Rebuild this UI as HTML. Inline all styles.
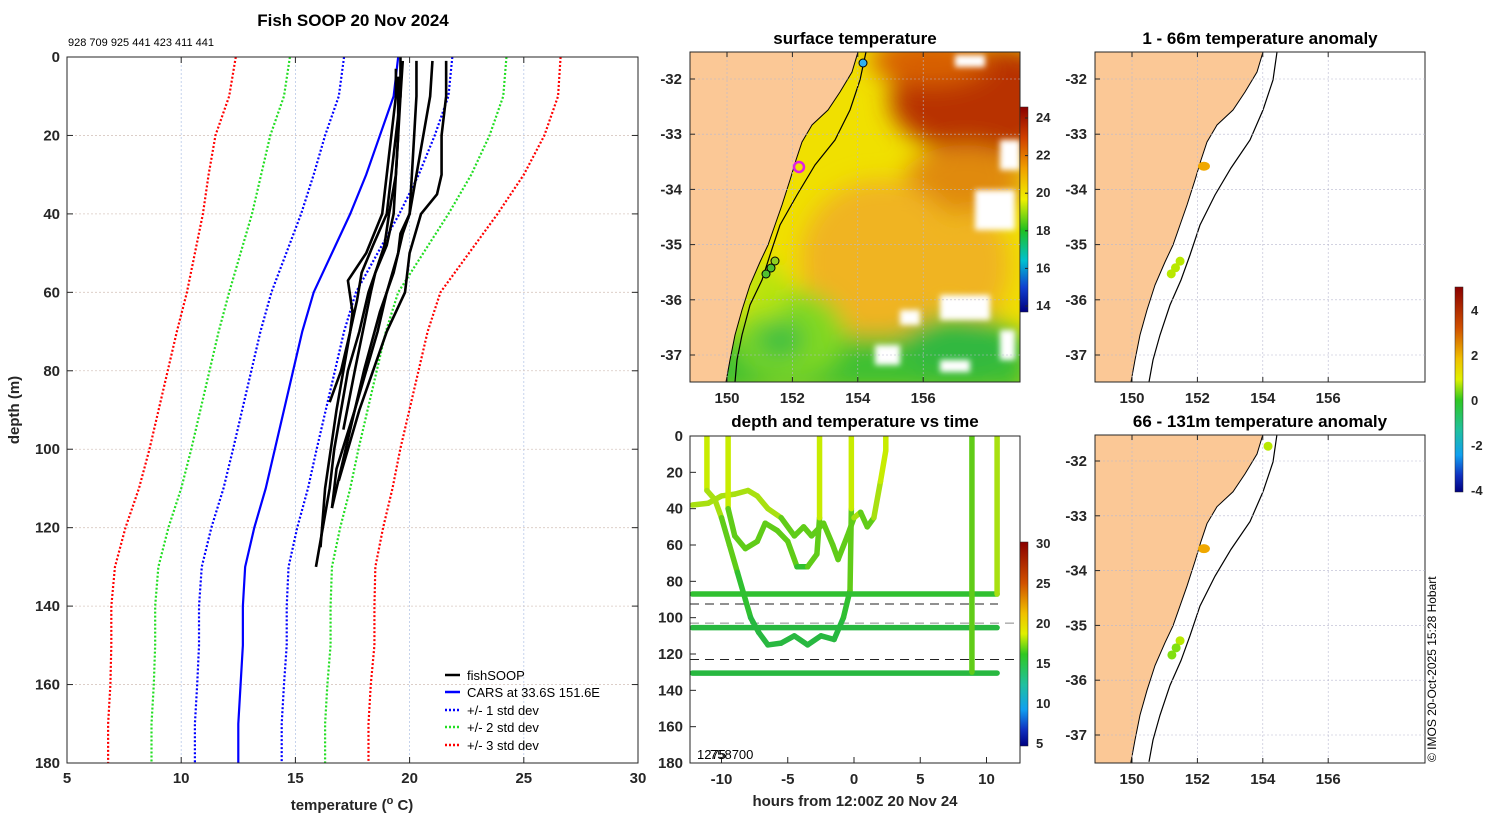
<!DOCTYPE html>
<html><head><meta charset="utf-8"><style>
html,body{margin:0;padding:0;background:#fff;}
svg{display:block;font-family:"Liberation Sans","DejaVu Sans",sans-serif;}
.tk{font-size:15px;font-weight:bold;fill:#262626;}
.ttl{font-size:17px;font-weight:bold;fill:#000;}
.lg{font-size:13px;fill:#000;}
</style></head><body>
<svg id="fig" width="1500" height="820" viewBox="0 0 1500 820" xmlns="http://www.w3.org/2000/svg">
<defs>
<clipPath id="cL"><rect x="67" y="57" width="571" height="706"/></clipPath>
<clipPath id="cM"><rect x="690" y="52" width="330" height="330"/></clipPath>
<clipPath id="cT"><rect x="690" y="436" width="330" height="327"/></clipPath>
<clipPath id="cR1"><rect x="1095" y="52" width="330" height="330"/></clipPath>
<clipPath id="cR2"><rect x="1095" y="435" width="330" height="328"/></clipPath>
<filter id="bl" x="-50%" y="-50%" width="200%" height="200%"><feGaussianBlur stdDeviation="12"/></filter>
<filter id="bl2" x="-50%" y="-50%" width="200%" height="200%"><feGaussianBlur stdDeviation="3"/></filter>
<linearGradient id="jet" x1="0" y1="0" x2="0" y2="1">
<stop offset="0" stop-color="#8a0000"/><stop offset="0.15" stop-color="#d04000"/><stop offset="0.3" stop-color="#f0a000"/><stop offset="0.45" stop-color="#f0f000"/><stop offset="0.6" stop-color="#20c020"/><stop offset="0.75" stop-color="#00c0d0"/><stop offset="0.88" stop-color="#1040d0"/><stop offset="1" stop-color="#000080"/></linearGradient>
<linearGradient id="jet2" x1="0" y1="0" x2="0" y2="1">
<stop offset="0" stop-color="#8a0000"/><stop offset="0.2" stop-color="#d05000"/><stop offset="0.35" stop-color="#f0c000"/><stop offset="0.45" stop-color="#e0f000"/><stop offset="0.55" stop-color="#30c820"/><stop offset="0.7" stop-color="#20c0a0"/><stop offset="0.82" stop-color="#10a0f0"/><stop offset="0.92" stop-color="#1030c0"/><stop offset="1" stop-color="#000080"/></linearGradient>
</defs>

<text class="ttl" x="353" y="26" text-anchor="middle">Fish SOOP 20 Nov 2024</text>
<text x="68" y="46" font-size="11">928 709 925 441 423 411 441</text>
<g id="leftGrid"></g>
<g id="leftMarks" clip-path="url(#cL)"></g>
<rect x="67" y="57" width="571" height="706" fill="none" stroke="#262626" stroke-width="1"/>
<g id="leftAxes"></g>
<text class="tk" x="352" y="810" text-anchor="middle" font-size="16">temperature (<tspan dy="-6" font-size="11">o</tspan><tspan dy="6"> C)</tspan></text>
<text class="tk" font-size="16" transform="translate(19,410) rotate(-90)" text-anchor="middle">depth (m)</text>
<g>
<line x1="445" y1="675" x2="460" y2="675" stroke="#000" stroke-width="2.5"/><text class="lg" x="467" y="680">fishSOOP</text>
<line x1="445" y1="692" x2="460" y2="692" stroke="#0000ff" stroke-width="2.5"/><text class="lg" x="467" y="697">CARS at 33.6S 151.6E</text>
<line x1="445" y1="710" x2="460" y2="710" stroke="#0000ff" stroke-width="2.5" stroke-dasharray="2,2"/><text class="lg" x="467" y="715">+/- 1 std dev</text>
<line x1="445" y1="727" x2="460" y2="727" stroke="#22dd22" stroke-width="2.5" stroke-dasharray="2,2"/><text class="lg" x="467" y="732">+/- 2 std dev</text>
<line x1="445" y1="745" x2="460" y2="745" stroke="#ff0000" stroke-width="2.5" stroke-dasharray="2,2"/><text class="lg" x="467" y="750">+/- 3 std dev</text>
</g>

<text class="ttl" x="855" y="44" text-anchor="middle">surface temperature</text>
<g clip-path="url(#cM)">
<rect x="690" y="52" width="330" height="330" fill="#f0e000"/>
<g filter="url(#bl)">
<ellipse cx="985" cy="100" rx="95" ry="55" fill="#b83000"/>
<ellipse cx="930" cy="60" rx="60" ry="25" fill="#d86000"/>
<ellipse cx="965" cy="180" rx="60" ry="35" fill="#e08a10"/>
<ellipse cx="880" cy="260" rx="80" ry="80" fill="#f0b420"/>
<ellipse cx="975" cy="265" rx="35" ry="55" fill="#f0b420"/>
<rect x="690" y="335" width="340" height="60" fill="#40c030"/>
<ellipse cx="790" cy="335" rx="55" ry="45" fill="#80d820"/>
<ellipse cx="780" cy="340" rx="25" ry="20" fill="#40c040"/>
<ellipse cx="765" cy="290" rx="22" ry="28" fill="#b8e410"/>
<ellipse cx="960" cy="345" rx="60" ry="30" fill="#30b840"/>
</g>
<g fill="#fff" filter="url(#bl2)">
<rect x="975" y="190" width="40" height="40"/><rect x="940" y="295" width="50" height="25"/>
<rect x="875" y="345" width="25" height="20"/><rect x="1000" y="140" width="20" height="30"/>
<rect x="955" y="55" width="30" height="12"/><rect x="1000" y="330" width="15" height="30"/>
<rect x="900" y="310" width="20" height="15"/><rect x="940" y="360" width="30" height="12"/>
</g>
<polygon points="690,52 858,52 852,72 840,92 828,110 812,125 802,142 796,160 790,180 782,205 775,225 768,245 760,262 750,285 742,310 735,335 730,360 726,382 690,382" fill="#fbc896" stroke="#000" stroke-width="1"/>
<polyline points="866,52 860,80 850,110 835,140 815,165 797,195 780,225 770,255 762,280 750,305 742,335 737,360 735,382" fill="none" stroke="#000" stroke-width="1.2"/>
<circle cx="863" cy="63" r="4" fill="#30b0f0" stroke="#000"/>
<circle cx="799" cy="167" r="5" fill="none" stroke="#e020e0" stroke-width="2.5"/>
<circle cx="775" cy="261" r="4" fill="#90d020" stroke="#000"/><circle cx="771" cy="268" r="4" fill="#50c030" stroke="#000"/><circle cx="766" cy="274" r="4" fill="#50c030" stroke="#000"/>
</g>
<rect x="690" y="52" width="330" height="330" fill="none" stroke="#262626"/>
<rect x="1020" y="107" width="8" height="205" fill="url(#jet)" stroke="#262626" stroke-width="0.5"/>
<g id="midAxes"></g>

<text class="ttl" x="855" y="427" text-anchor="middle">depth and temperature vs time</text>
<g id="dtMarks" clip-path="url(#cT)"></g>
<rect x="690" y="436" width="330" height="327" fill="none" stroke="#262626"/>
<text x="697" y="759" font-size="13">1275</text>
<text x="710" y="759" font-size="13">758700</text>
<rect x="1020" y="542" width="8" height="204" fill="url(#jet2)" stroke="#262626" stroke-width="0.5"/>
<text class="tk" x="855" y="806" text-anchor="middle" font-size="16">hours from 12:00Z 20 Nov 24</text>

<text class="ttl" x="1260" y="44" text-anchor="middle">1 - 66m temperature anomaly</text>
<text class="ttl" x="1260" y="427" text-anchor="middle">66 - 131m temperature anomaly</text>
<g id="rightMaps"></g>
<rect x="1455" y="287" width="8" height="205" fill="url(#jet2)" stroke="#262626" stroke-width="0.5"/>
<text font-size="12" transform="translate(1436,762) rotate(-90)">© IMOS 20-Oct-2025 15:28 Hobart</text>
</svg>
<script>
const depths=[0,10,20,30,40,50,60,70,80,90,100,110,120,130,140,150,160,170,180];
const carsMean=[19.5,19.3,18.7,18.1,17.4,16.6,15.8,15.3,14.9,14.5,14.1,13.7,13.2,12.8,12.7,12.7,12.6,12.5,12.5];
const carsStd=[2.37,2.4,2.4,2.3,2.15,2.0,1.85,1.83,1.83,1.83,1.83,1.85,1.88,1.9,1.92,1.92,1.9,1.9,1.9];
const profDepths=[
 [0,10,20,30,40,48,55,60,70,80,90,100,110,120,130],
 [1,10,20,30,40,48,55,62,70,80,88],
 [1,10,30,40,45,50,55,65,80,100,115],
 [1,10,20,30,40,45,50,60,70,90,105,115],
 [1,10,20,30,35,40,50,60,70,90,108],
 [3,10,20,30,40,50,57,65,70,90,110,125],
 [5,20,30,40,48,55,60,80,95]];
const profTemps=[
 [19.6,19.6,19.5,19.4,19.3,19.0,18.5,18.2,17.8,17.3,17.0,16.7,16.5,16.2,15.9],
 [19.7,19.6,19.4,19.2,19.0,18.4,17.9,17.7,17.4,17.0,16.5],
 [20.3,20.3,20.1,20.0,19.7,19.5,19.3,18.7,18.0,17.2,16.6],
 [21.0,20.9,20.6,20.3,20.0,19.6,19.5,19.0,18.6,17.6,16.8,16.6],
 [21.6,21.6,21.4,21.4,21.2,20.5,20.0,19.8,19.0,17.8,16.9],
 [19.4,19.4,19.2,19.0,18.8,18.1,17.3,17.5,17.4,16.8,16.3,16.1],
 [19.5,19.5,19.4,19.1,18.9,18.5,18.3,17.6,17.1]];
const xTicks=[5,10,15,20,25,30];
const yTicks=[0,20,40,60,80,100,120,140,160,180];
const trackHours=[
 [-11.1,-11.1,-10.5,-10,-9.4,-8.8,-8.2,-7.8,-7.2,-6.5,-5.5,-4.5,-3.5,-2.5,-1.5,-0.8,-0.3,-0.2,-0.2],
 [-12.2,-11,-10,-9,-8,-7.3,-6.5,-5.5,-4.5,-3.8,-3.2,-2.3,-1.6,-1.2,-0.5,0,0.5,1,1.5,2,2.4,2.4],
 [-9.5,-9.5,-9,-8.2,-7.3,-6.7,-5.8,-5,-4.3,-3.5,-2.8,-2.6,-2.6],
 [-12.2,10.8,10.8],
 [-12.2,10.8],
 [-12.2,10.8],
 [8.9,8.9]];
const trackDepths=[
 [0,30,35,45,60,75,90,100,108,115,114,110,115,110,112,100,85,40,0],
 [38,37,33,32,30,33,40,45,55,50,55,48,60,68,55,45,42,50,45,25,8,0],
 [0,40,55,62,58,48,52,58,72,72,65,45,0],
 [87,87,0],
 [105.5,105.5],
 [130.5,130.5],
 [0,130]];
const dashDepths=[92.5,103,123];
const hourTicks=[-10,-5,0,5,10];
const dtDepthTicks=[0,20,40,60,80,100,120,140,160,180];
const sstTicks=[24,22,20,18,16,14];
const dtCbTicks=[30,25,20,15,10,5];
const anomTicks=[4,2,0,-2,-4];
const lonTicks=[150,152,154,156];
const latTicks=[-32,-33,-34,-35,-36,-37];
const anomLon1=[152.2,151.47,151.33,151.2];
const anomLat1=[-33.58,-35.3,-35.42,-35.53];
const anomVal1=[2.5,0.8,0.8,0.8];
const anomLon2=[154.16,152.2,151.47,151.35,151.22];
const anomLat2=[-31.73,-33.6,-35.28,-35.41,-35.54];
const anomVal2=[0.8,2.5,0.8,0.5,0.3];

const NS='http://www.w3.org/2000/svg';
function mk(tag,attrs,parent){const e=document.createElementNS(NS,tag);for(const k in attrs)e.setAttribute(k,attrs[k]);parent.appendChild(e);return e;}

const X=t=>67+(t-5)*571/25, Y=d=>57+d*706/180;
const lg=document.getElementById('leftGrid'), lm=document.getElementById('leftMarks'), la=document.getElementById('leftAxes');
xTicks.forEach(t=>{
 const gl=mk('line',{x1:X(t),x2:X(t),y1:57,y2:763,stroke:'#b8c8e8','stroke-width':0.8,'stroke-dasharray':'2,2'},lg);
 
 
 mk('line',{x1:X(t),x2:X(t),y1:57,y2:63,stroke:'#262626'},la);
 mk('line',{x1:X(t),x2:X(t),y1:757,y2:763,stroke:'#262626'},la);
 const tx=mk('text',{x:X(t),y:783,'text-anchor':'middle',class:'tk'},la);tx.textContent=t;
 
 
});
yTicks.forEach(d=>{
 const gl=mk('line',{x1:67,x2:638,y1:Y(d),y2:Y(d),stroke:'#d8c8c0','stroke-width':0.8,'stroke-dasharray':'2,2'},lg);
 
 
 mk('line',{x1:67,x2:73,y1:Y(d),y2:Y(d),stroke:'#262626'},la);
 mk('line',{x1:632,x2:638,y1:Y(d),y2:Y(d),stroke:'#262626'},la);
 const tx=mk('text',{x:60,y:Y(d)+5,'text-anchor':'end',class:'tk'},la);tx.textContent=d;
 
 
});
const bands=[[3,'#ff0000','std-3'],[2,'#22dd22','std-2'],[1,'#0000ff','std-1']];
bands.forEach(([k,c,n])=>{
 [-1,1].forEach(s=>{
  const pts=depths.map((d,i)=>X(carsMean[i]+s*k*carsStd[i])+','+Y(d)).join(' ');
  const pl=mk('polyline',{points:pts,fill:'none',stroke:c,'stroke-width':2.2,'stroke-dasharray':'2,2'},lm);
  
  
 });
});
const mean=mk('polyline',{points:depths.map((d,i)=>X(carsMean[i])+','+Y(d)).join(' '),fill:'none',stroke:'#0000ff','stroke-width':2.2},lm);


profDepths.forEach((ds,j)=>{
 const pl=mk('polyline',{points:ds.map((d,i)=>X(profTemps[j][i])+','+Y(d)).join(' '),fill:'none',stroke:'#000','stroke-width':2.6,'stroke-linejoin':'round'},lm);
 
 
});

const LON=l=>727+(l-150)*32.7, LAT1=v=>79+(-32-v)*55.2;
const ma=document.getElementById('midAxes');
function mapAxes(x0,y0,w,h,latFn,lonOff,parent,nm){
 latTicks.forEach(v=>{
  const y=latFn(v); if(y<y0||y>y0+h)return;
  mk('line',{x1:x0,x2:x0+w,y1:y,y2:y,stroke:'#b8b8d0','stroke-width':0.6,'stroke-dasharray':'2,2'},parent);
  mk('line',{x1:x0,x2:x0+5,y1:y,y2:y,stroke:'#262626'},parent);
  const t=mk('text',{x:x0-8,y:y+5,'text-anchor':'end',class:'tk'},parent);t.textContent=v;
  
  
 });
 lonTicks.forEach(l=>{
  const x=LON(l)+lonOff;
  mk('line',{x1:x,x2:x,y1:y0,y2:y0+h,stroke:'#b8b8d0','stroke-width':0.6,'stroke-dasharray':'2,2'},parent);
  mk('line',{x1:x,x2:x,y1:y0,y2:y0+5,stroke:'#262626'},parent);
  mk('line',{x1:x,x2:x,y1:y0+h-5,y2:y0+h,stroke:'#262626'},parent);
  const t=mk('text',{x:x,y:y0+h+21,'text-anchor':'middle',class:'tk'},parent);t.textContent=l;
  
  
 });
}
mapAxes(690,52,330,330,LAT1,0,ma,'sst');
function colorbarTicks(vals,y0,y1,vmax,vmin,x,parent,nm){
 vals.forEach(v=>{
  const y=y0+(vmax-v)/(vmax-vmin)*(y1-y0);
  mk('line',{x1:x-3,x2:x,y1:y,y2:y,stroke:'#262626'},parent);
  const t=mk('text',{x:x+8,y:y+4,'font-size':13,'font-weight':'bold',fill:'#262626'},parent);t.textContent=v;
  
  
 });
}
colorbarTicks(sstTicks,118,306,24,14,1028,ma,'sst-colorbar');
colorbarTicks(dtCbTicks,544,744,30,5,1028,ma,'depth-time-colorbar');
colorbarTicks(anomTicks,311,491,4,-4,1463,ma,'anomaly-colorbar');

const H=h=>854+h*13.25, D=d=>436+d*327/180;
const dt=document.getElementById('dtMarks');
function tcol(d){return d<25?'#c8ec00':d<45?'#a8e010':d<70?'#60cc18':d<100?'#30c030':'#28b840';}
dashDepths.forEach((d,i)=>{
 const l=mk('line',{x1:690,x2:i==0?998:1020,y1:D(d),y2:D(d),stroke:i==1?'#888':'#222','stroke-width':1,'stroke-dasharray':'9,6'},dt);
 
 
});
trackHours.forEach((hs,j)=>{
 for(let i=0;i<hs.length-1;i++){
  const dm=(trackDepths[j][i]+trackDepths[j][i+1])/2;
  const s=mk('line',{x1:H(hs[i]),y1:D(trackDepths[j][i]),x2:H(hs[i+1]),y2:D(trackDepths[j][i+1]),stroke:tcol(dm),'stroke-width':5.5,'stroke-linecap':'round'},dt);
  
  
 }
});
hourTicks.forEach(h=>{
 mk('line',{x1:H(h),x2:H(h),y1:757,y2:763,stroke:'#262626'},ma);
 const t=mk('text',{x:H(h),y:784,'text-anchor':'middle',class:'tk'},ma);t.textContent=h;
 
 
});
dtDepthTicks.forEach(d=>{
 mk('line',{x1:690,x2:696,y1:D(d),y2:D(d),stroke:'#262626'},ma);
 const t=mk('text',{x:683,y:D(d)+5,'text-anchor':'end',class:'tk'},ma);t.textContent=d;
 
 
});

// right maps: coastline traced in top-map pixels, reused via shift
const coastPx=[[858,52],[852,72],[840,92],[828,110],[812,125],[802,142],[796,160],[790,180],[782,205],[775,225],[768,245],[760,262],[750,285],[742,310],[735,335],[730,360],[726,382]];
const isoPx=[[872,52],[868,80],[858,110],[845,140],[826,168],[810,195],[795,225],[785,255],[776,280],[765,305],[755,335],[748,360],[744,382]];
const rm=document.getElementById('rightMaps');
function anomColor(v){return v>2?'#f0a800':v>1.2?'#f0d000':v>0.6?'#b8e800':'#80e010';}
function rightMap(y0,h,latFn,clip,lons,lats,vals,nm){
 const yMap=y=>latFn(-32-(y-79)/55.2);
 const g=mk('g',{'clip-path':'url(#'+clip+')'},rm);
 
 
 mk('rect',{x:1095,y:y0,width:330,height:h,fill:'#fff'},g);
 const pts=['1090,'+(y0-5)].concat(coastPx.map(p=>(p[0]+405)+','+yMap(p[1]))).concat([(coastPx[coastPx.length-1][0]+405)+','+(y0+h+5),'1090,'+(y0+h+5)]).join(' ');
 mk('polygon',{points:pts,fill:'#fbc896',stroke:'#000','stroke-width':1},g);
 mk('polyline',{points:isoPx.map(p=>(p[0]+405)+','+yMap(p[1])).join(' '),fill:'none',stroke:'#000','stroke-width':1.2},g);
 lons.forEach((l,i)=>{
  const c=mk('ellipse',{cx:LON(l)+405,cy:latFn(lats[i]),rx:vals[i]>2?6:4.5,ry:4.5,fill:anomColor(vals[i])},g);
  
  
 });
 mk('rect',{x:1095,y:y0,width:330,height:h,fill:'none',stroke:'#262626'},rm);
 mapAxes(1095,y0,330,h,latFn,405,rm,nm);
}
rightMap(52,330,LAT1,'cR1',anomLon1,anomLat1,anomVal1,'anomaly-map-shallow');
rightMap(435,328,v=>461+(-32-v)*54.8,'cR2',anomLon2,anomLat2,anomVal2,'anomaly-map-deep');
</script>
</body></html>
